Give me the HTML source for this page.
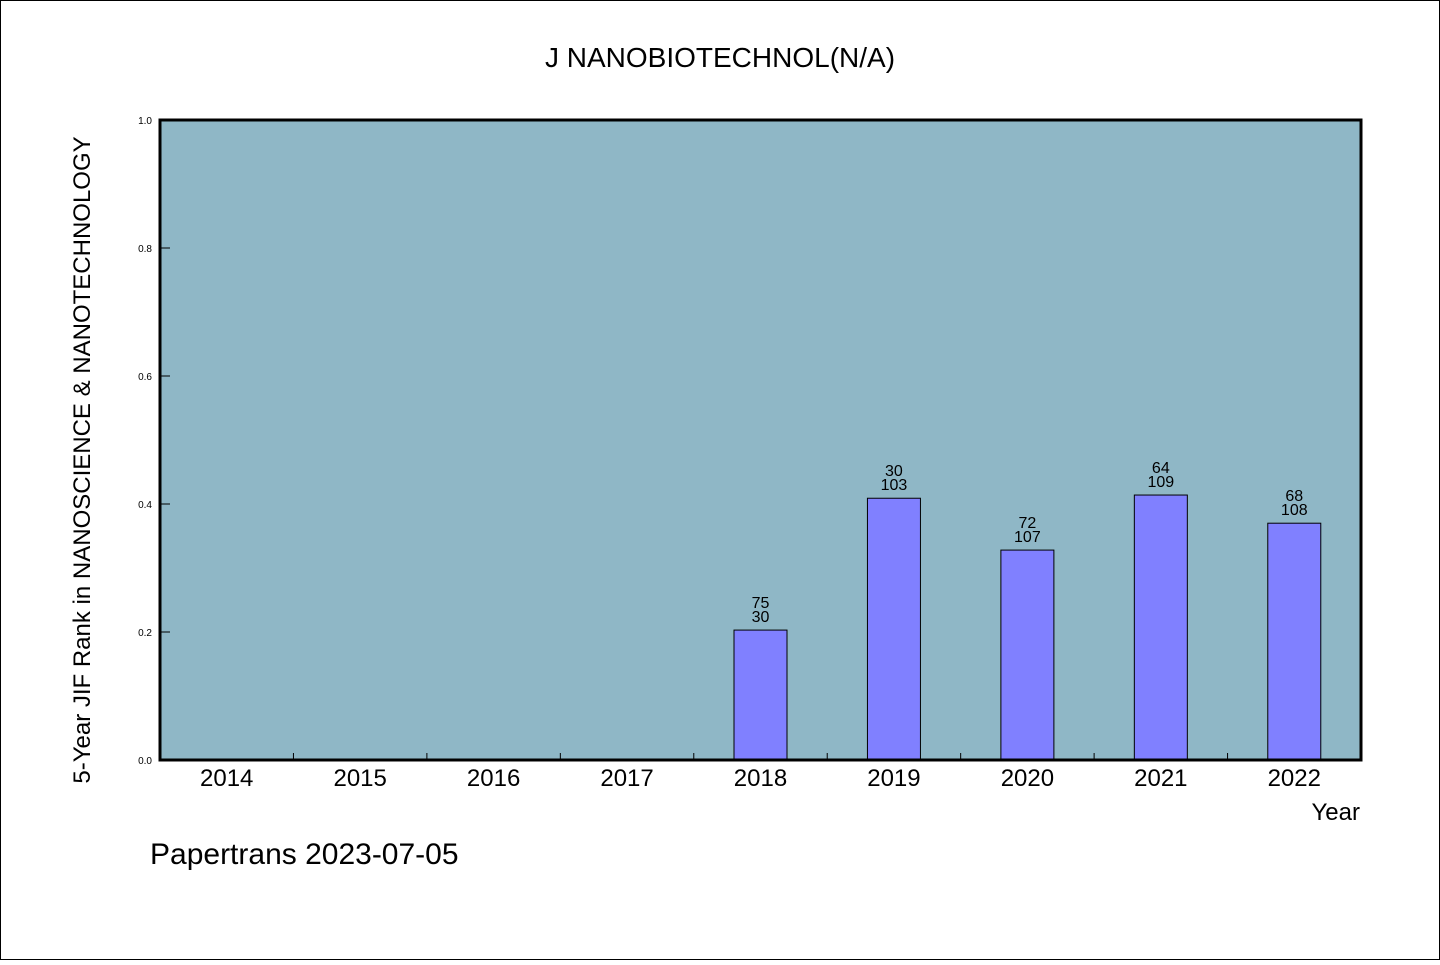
<!DOCTYPE html>
<html><head><meta charset="utf-8"><style>
body{margin:0;background:#fff}
svg text{font-family:"WenQuanYi Zen Hei","Liberation Sans",sans-serif;fill:#000}
</style></head><body>
<svg width="1440" height="960" viewBox="0 0 1440 960">
<rect x="0.5" y="0.5" width="1439" height="959" fill="#fff" stroke="#000"/>
<text x="720" y="67" font-size="28" text-anchor="middle">J NANOBIOTECHNOL(N/A)</text>
<rect x="160" y="120" width="1201" height="640" fill="#8fb7c6"/>
<g id="bars"></g>
<g id="axes"></g>
<rect x="160" y="120" width="1201" height="640" fill="none" stroke="#000" stroke-width="3"/>
<text transform="translate(90,460) rotate(-90)" font-size="24" text-anchor="middle">5-Year JIF Rank in NANOSCIENCE &amp; NANOTECHNOLOGY</text>
<text x="1360" y="820" font-size="24" text-anchor="end">Year</text>
<text x="150" y="864" font-size="30">Papertrans 2023-07-05</text>
</svg>
<script>
const categories=["2014","2015","2016","2017","2018","2019","2020","2021","2022"];
const values=[null,null,null,null,0.203,0.409,0.328,0.414,0.370];
const topLabels=["","","","","75","30","72","64","68"];
const bottomLabels=["","","","","30","103","107","109","108"];
const yTicks=[0,0.2,0.4,0.6,0.8,1.0];
const yTickLabels=["0.0","0.2","0.4","0.6","0.8","1.0"];
const X0=160,X1=1361,Y0=760,Y1=120;
const bw=(X1-X0)/categories.length;
const xc=i=>X0+bw*(i+0.5);
const ys=v=>Y0-(Y0-Y1)*v;
const NS="http://www.w3.org/2000/svg";
function mk(t,a,p){const e=document.createElementNS(NS,t);for(const k in a)e.setAttribute(k,a[k]);p.appendChild(e);return e;}
const gb=document.getElementById('bars'),ga=document.getElementById('axes');
categories.forEach((c,i)=>{
 const v=values[i];
 if(v!=null){
  const r=mk('rect',{x:xc(i)-26.5,y:ys(v),width:53,height:Y0-ys(v),fill:'#8080ff',stroke:'#000','stroke-width':1},gb);
  
  
  const t1=mk('text',{x:xc(i),y:ys(v)-22,'font-size':16,'text-anchor':'middle'},gb);t1.textContent=topLabels[i];
  
  
  const t2=mk('text',{x:xc(i),y:ys(v)-8,'font-size':16,'text-anchor':'middle'},gb);t2.textContent=bottomLabels[i];
  
  
 }
 const t=mk('text',{x:xc(i),y:786,'font-size':24,'text-anchor':'middle'},ga);t.textContent=c;
 
 
 if(i>0){const l=mk('line',{x1:X0+bw*i,x2:X0+bw*i,y1:Y0,y2:Y0-7,stroke:'#000'},ga);
 
 }
});
yTicks.forEach((v,i)=>{
 const l=mk('line',{x1:X0,x2:X0+10,y1:ys(v),y2:ys(v),stroke:'#000'},ga);
 
 
 const t=mk('text',{x:152,y:ys(v)+4,'font-size':10,'text-anchor':'end'},ga);t.textContent=yTickLabels[i];
 
 
});
</script>
</body></html>
